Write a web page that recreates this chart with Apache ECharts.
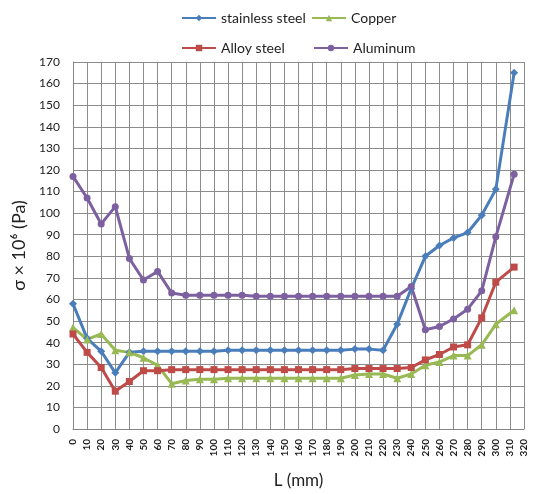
<!DOCTYPE html>
<html>
<head>
<meta charset="utf-8">
<script src="https://cdn.jsdelivr.net/npm/echarts@6/dist/echarts.min.js"></script>
<style>
  html, body { margin: 0; padding: 0; background: #fff; }
  #chart { width: 534px; height: 494px; }
</style>
</head>
<body>
<div id="chart"></div>
<script>
// Position along the specimen, L (mm)
const lengths = [0, 10, 20, 30, 40, 50, 60, 70, 80, 90, 100, 110, 120, 130, 140, 150,
  160, 170, 180, 190, 200, 210, 220, 230, 240, 250, 260, 270, 280, 290, 300, 313];

// Stress σ × 10^6 (Pa) for each material
const stainlessSteel = [58, 42, 36, 26, 35.5, 36, 36, 36, 36, 36, 36, 36.5, 36.5, 36.5, 36.5, 36.5,
  36.5, 36.5, 36.5, 36.5, 37, 37, 36.5, 48.5, 65, 80, 85, 88.5, 91, 99, 111, 165];
const copper = [47, 41.5, 44, 36.5, 35.5, 33, 29.5, 21, 22.5, 23, 23, 23.5, 23.5, 23.5, 23.5, 23.5,
  23.5, 23.5, 23.5, 23.5, 25, 25.5, 25.5, 23.5, 25.5, 29.5, 31, 34, 34, 39, 48.5, 55];
const alloySteel = [44, 35.5, 28.5, 17.5, 22, 27, 27, 27.5, 27.5, 27.5, 27.5, 27.5, 27.5, 27.5, 27.5, 27.5,
  27.5, 27.5, 27.5, 27.5, 28, 28, 28, 28, 28.5, 32, 34.5, 38, 39, 51.5, 68, 75];
const aluminum = [117, 107, 95, 103, 79, 69, 73, 63, 62, 62, 62, 62, 62, 61.5, 61.5, 61.5,
  61.5, 61.5, 61.5, 61.5, 61.5, 61.5, 61.5, 61.5, 66, 46, 47.5, 51, 55.5, 64, 89, 118];

const yTicks = { min: 0, max: 170, step: 10 };
const xTicks = { min: 0, max: 320, step: 10 };

const font = 'Lato, "Liberation Sans", sans-serif';

function pairs(values) {
  return values.map((v, i) => [lengths[i], v]);
}

function seriesOf(name, values, color, symbol, size) {
  return {
    name: name,
    type: 'line',
    data: pairs(values),
    symbol: symbol,
    symbolSize: size,
    lineStyle: { color: color, width: 3 },
    itemStyle: { color: color },
    emphasis: { disabled: true },
    z: 3
  };
}

function legendAt(name, left, top) {
  return {
    data: [name],
    left: left,
    top: top,
    itemWidth: 34,
    itemHeight: 8,
    itemGap: 4,
    textStyle: { fontFamily: font, fontSize: 14, color: '#222' }
  };
}

const chart = echarts.init(document.getElementById('chart'), null, { renderer: 'canvas' });

chart.setOption({
  animation: false,
  backgroundColor: '#fff',
  legend: [
    legendAt('stainless steel', 176, 6),
    legendAt('Copper', 306, 6),
    legendAt('Alloy steel', 176, 36),
    legendAt('Aluminum', 308, 36)
  ],
  grid: { left: 73, right: 10, top: 62, bottom: 62 },
  xAxis: {
    type: 'value',
    min: xTicks.min,
    max: xTicks.max,
    interval: xTicks.step,
    name: 'L (mm)',
    nameLocation: 'middle',
    nameGap: 43,
    nameTextStyle: { fontFamily: font, fontSize: 17, color: '#222' },
    axisLine: { show: true, lineStyle: { color: '#858585', width: 1 } },
    axisTick: { show: false },
    axisLabel: { rotate: 90, margin: 10, fontFamily: font, fontSize: 10, color: '#222', fontWeight: 'bold' },
    splitLine: { show: true, lineStyle: { color: '#8c8c8c', width: 1 } }
  },
  yAxis: {
    type: 'value',
    min: yTicks.min,
    max: yTicks.max,
    interval: yTicks.step,
    name: 'σ × 10⁶ (Pa)',
    nameLocation: 'middle',
    nameGap: 44,
    nameRotate: 90,
    nameTextStyle: { fontFamily: font, fontSize: 18, color: '#222' },
    axisLine: { show: true, lineStyle: { color: '#858585', width: 1 } },
    axisTick: { show: false },
    axisLabel: { margin: 13, fontFamily: font, fontSize: 12, color: '#222' },
    splitLine: { show: true, lineStyle: { color: '#8c8c8c', width: 1 } }
  },
  series: [
    seriesOf('stainless steel', stainlessSteel, '#4a7ebb', 'diamond', 8),
    seriesOf('Copper', copper, '#98b954', 'triangle', 8),
    seriesOf('Alloy steel', alloySteel, '#be4b48', 'rect', 7),
    seriesOf('Aluminum', aluminum, '#7d60a0', 'circle', 7)
  ]
});
</script>
</body>
</html>
